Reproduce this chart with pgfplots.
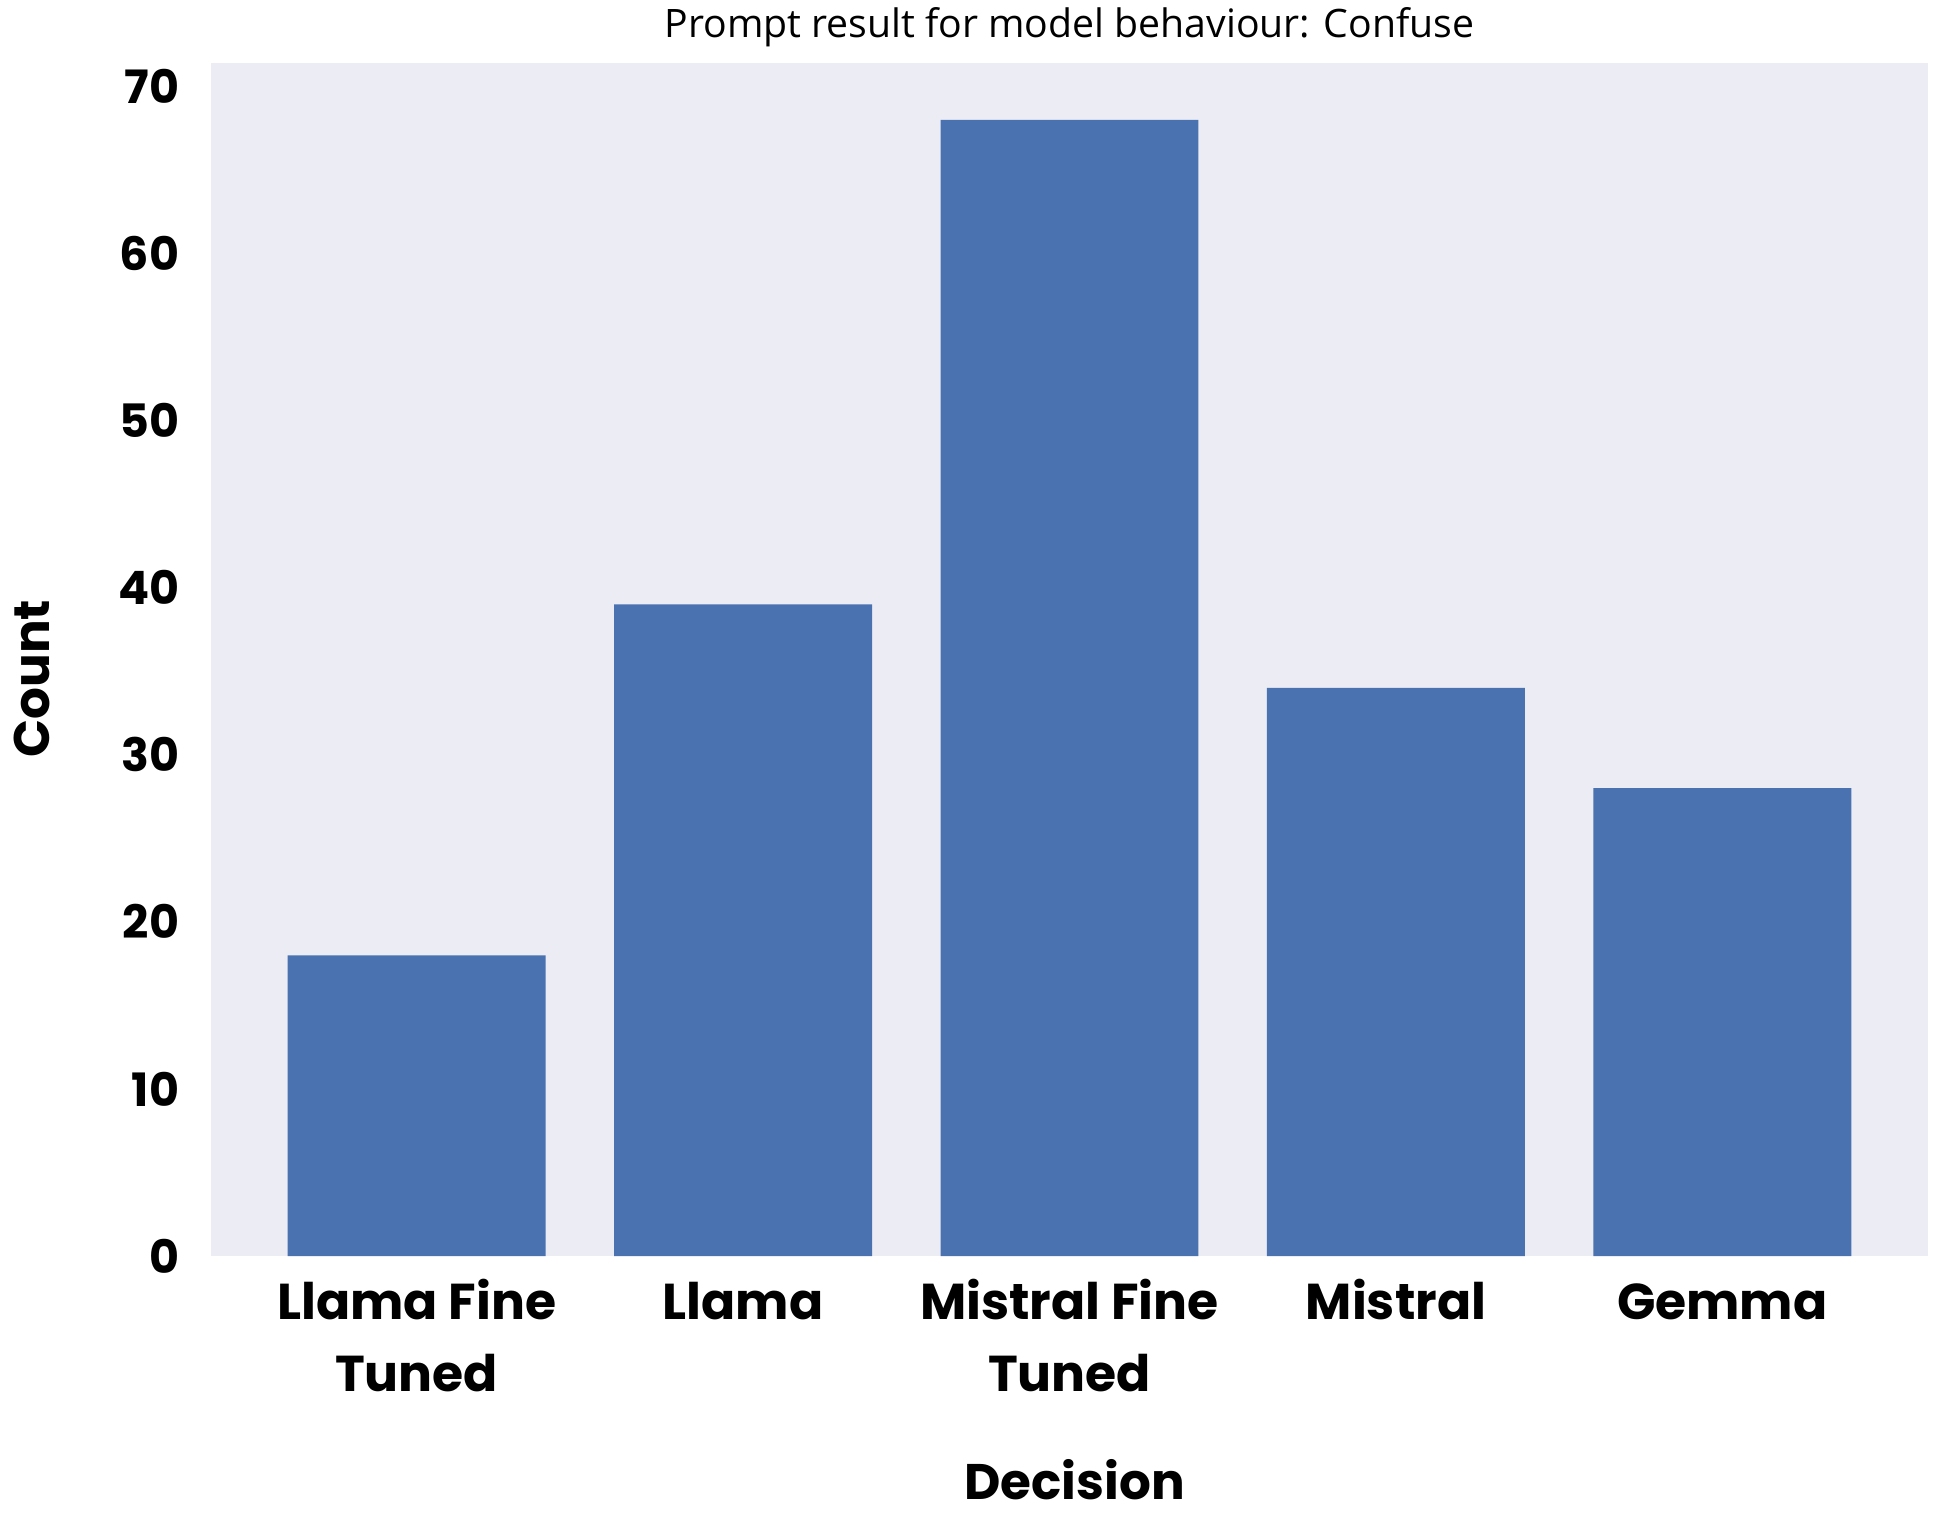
\documentclass[border=0pt]{standalone}
\usepackage{fontspec}
\setmainfont{Poppins}
\newfontfamily\titlefont{Open Sans}
\usepackage{pgfplots}
\pgfplotsset{compat=1.18}
\definecolor{bgcol}{HTML}{ECECF4}
\definecolor{barcol}{HTML}{4A72B0}

\begin{document}
\begin{tikzpicture}
\useasboundingbox (-52.75pt,-64.5pt) rectangle (432.75pt,314pt);
\begin{axis}[
  at={(0,0)}, anchor=south west,
  scale only axis, width=429.25pt, height=298.25pt,
  axis background/.style={fill=bgcol}, axis line style={draw=none},
  ybar, bar width=0.79, bar shift=0pt,
  xmin=-0.63, xmax=4.63, ymin=0, ymax=71.4,
  xtick={0,1,2,3,4},
  xticklabels={{\strut Llama Fine\\\strut Tuned},{\strut Llama},{\strut Mistral Fine\\\strut Tuned},{\strut Mistral},{\strut Gemma}},
  ytick={0,10,...,70},
  major tick length=0pt,
  /pgf/number format/assume math mode=true,
  xticklabel style={font=\fontsize{12.6}{18}\selectfont\bfseries, align=center, inner sep=0pt, anchor=north, yshift=-3pt},
  yticklabel style={font=\fontsize{11.5}{14}\selectfont\bfseries, inner sep=0pt, xshift=-7.75pt},
  xlabel={Decision}, ylabel={Count},
  xlabel style={font=\fontsize{12.5}{15}\selectfont\bfseries, at={(axis description cs:0.503,-0.1878)}, anchor=center},
  ylabel style={font=\fontsize{12.5}{15}\selectfont\bfseries, at={(axis description cs:-0.1043,0.484)}, anchor=center},
  every axis title shift=0pt,
  title={Prompt result for model behaviour: Confuse},
  title style={font=\titlefont\fontsize{9.8}{11}\selectfont, at={(axis description cs:0.5,1.0302)}, anchor=center, yshift=0pt},
]
\addplot[draw=none, fill=barcol] coordinates {(0,18) (1,39) (2,68) (3,34) (4,28)};
\end{axis}
\end{tikzpicture}
\end{document}
